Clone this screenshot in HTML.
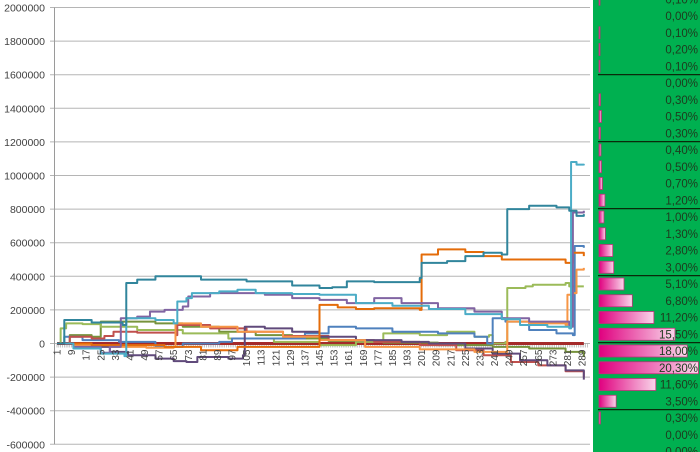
<!DOCTYPE html>
<html><head><meta charset="utf-8"><style>
body{margin:0;background:#fff;width:700px;height:452px;overflow:hidden;font-family:"Liberation Sans",sans-serif}
</style></head><body>
<svg id="c" width="700" height="452" xmlns="http://www.w3.org/2000/svg" style="position:absolute;left:0;top:0"></svg>
<script>
const yTicks=[2000000,1800000,1600000,1400000,1200000,1000000,800000,600000,400000,200000,0,-200000,-400000,-600000];
const nCats=292;
const xLabelStep=8;
// series: [category index, value]
const sDarkTeal=[[1,0],[5,140000],[20,125000],[37,110000],[39,360000],[45,380000],[55,400000],[80,380000],[105,370000],[130,345000],[145,330000],[152,335000],[160,370000],[175,365000],[200,390000],[201,480000],[215,490000],[225,520000],[235,540000],[245,530000],[248,800000],[255,800000],[260,820000],[275,810000],[282,790000],[286,760000],[290,770000]];
const sCyan=[[1,0],[10,-30000],[25,-60000],[38,-75000],[39,150000],[55,140000],[65,120000],[67,250000],[72,270000],[75,300000],[90,310000],[100,320000],[110,300000],[130,295000],[145,290000],[165,240000],[185,225000],[205,205000],[225,175000],[245,145000],[255,110000],[270,100000],[282,90000],[283,1080000],[286,1065000],[290,1060000]];
const sPurple=[[1,0],[10,-20000],[25,-55000],[30,-20000],[36,150000],[45,160000],[52,190000],[60,200000],[70,220000],[73,280000],[85,300000],[100,300000],[115,290000],[130,270000],[145,260000],[160,240000],[175,270000],[190,240000],[210,210000],[230,190000],[245,150000],[260,130000],[282,100000],[284,780000],[290,790000]];
const sPurpleDark=[[1,0],[15,-20000],[30,-50000],[40,-70000],[55,-90000],[65,-105000],[72,-110000],[78,-80000],[95,-90000],[103,-70000],[104,100000],[115,90000],[130,70000],[145,40000],[165,20000],[190,10000],[205,0],[225,-30000],[240,-60000],[255,-100000],[270,-130000],[280,-160000],[290,-215000]];
const sRed=[[1,0],[8,40000],[20,30000],[27,45000],[32,70000],[45,65000],[66,50000],[67,110000],[85,90000],[105,70000],[125,45000],[150,20000],[175,10000],[200,-10000],[220,-40000],[235,-70000],[250,-110000],[265,-130000],[280,-165000],[290,-200000]];
const sFlat=[[1,0],[290,0]];
const sLightGreen=[[1,0],[3,90000],[6,120000],[15,115000],[25,100000],[45,80000],[70,60000],[95,30000],[120,10000],[145,-10000],[165,10000],[180,60000],[200,50000],[215,70000],[230,40000],[238,50000],[240,0],[247,10000],[248,330000],[258,340000],[262,350000],[280,360000],[282,340000],[290,340000]];
const sOlive=[[1,0],[8,50000],[20,40000],[25,130000],[40,130000],[55,120000],[70,100000],[90,70000],[110,50000],[130,30000],[150,15000],[180,5000],[210,-10000],[240,-20000],[260,-30000],[280,-50000],[290,-80000]];
const sOrange=[[1,0],[10,-10000],[30,-20000],[50,-25000],[65,-20000],[66,120000],[80,100000],[100,70000],[125,40000],[145,20000],[170,-20000],[200,-35000],[230,-50000],[247,-50000],[248,130000],[260,120000],[280,110000],[281,290000],[284,300000],[286,440000],[290,450000]];
const sDarkOrange=[[1,0],[20,-10000],[60,-20000],[80,-40000],[100,-20000],[144,-20000],[145,230000],[155,215000],[165,205000],[175,210000],[200,200000],[201,530000],[210,560000],[225,545000],[235,520000],[245,500000],[260,500000],[280,480000],[284,540000],[290,520000]];
const sBlue=[[1,0],[5,40000],[15,20000],[35,10000],[55,-20000],[70,0],[90,10000],[97,30000],[125,30000],[137,60000],[150,100000],[165,90000],[185,70000],[210,60000],[230,40000],[237,0],[240,150000],[247,130000],[260,80000],[275,60000],[284,50000],[285,580000],[290,570000]];
const seriesList=[sFlat,sOlive,sLightGreen,sBlue,sRed,sPurpleDark,sOrange,sDarkOrange,sPurple,sCyan,sDarkTeal];
const seriesNames=['flat-series','olive-series','light-green-series','blue-series','red-series','dark-purple-series','orange-series','dark-orange-series','purple-series','cyan-series','dark-teal-series'];
const seriesColors=['#A52A2A','#77933C','#9BBB59','#4F81BD','#C0504D','#604A7B','#F79646','#E46C0A','#8064A2','#4BACC6','#31859C'];
const pctRows=['0,10%','0,00%','0,10%','0,20%','0,10%','0,00%','0,30%','0,50%','0,30%','0,40%','0,50%','0,70%','1,20%','1,00%','1,30%','2,80%','3,00%','5,10%','6,80%','11,20%','15,50%','18,00%','20,30%','11,60%','3,50%','0,30%','0,00%','0,00%'];
const pctValues=[0.1,0,0.1,0.2,0.1,0,0.3,0.5,0.3,0.4,0.5,0.7,1.2,1.0,1.3,2.8,3.0,5.1,6.8,11.2,15.5,18.0,20.3,11.6,3.5,0.3,0,0];

const svg=document.getElementById('c');const NS='http://www.w3.org/2000/svg';
function mk(t,a,p){const e=document.createElementNS(NS,t);for(const k in a)e.setAttribute(k,a[k]);(p||svg).appendChild(e);return e;}
const X0=57,XS=(582-57)/288;
function xs(i){return X0+(i-1)*XS;}
function ys(v){return 343.5-v*33.6/200000;}
yTicks.forEach(v=>{
  const g=mk('line',{x1:50,x2:590,y1:ys(v),y2:ys(v),stroke:'#b5b5b5','stroke-width':1});
  
  
  const t=mk('text',{x:45,y:ys(v)+4,'text-anchor':'end','font-size':10.5,fill:'#404040'});
  t.textContent=String(v);
  
  
});
const ax=mk('line',{x1:54.5,x2:54.5,y1:ys(2000000),y2:ys(-600000),stroke:'#9a9a9a'});


for(let i=1;i<=nCats;i++){const m=mk('line',{x1:xs(i),x2:xs(i),y1:ys(0),y2:ys(0)+4,stroke:'#a0a0a0','stroke-width':0.6});

}
seriesList.forEach((s,k)=>{
  let d='M'+xs(s[0][0])+','+ys(s[0][1]);
  for(let j=1;j<s.length;j++){d+=' L'+xs(s[j][0])+','+ys(s[j-1][1])+' L'+xs(s[j][0])+','+ys(s[j][1]);}
  const p=mk('path',{d:d,fill:'none',stroke:seriesColors[k],'stroke-width':k==0?3:2,'stroke-linejoin':'round'});
  
  
});
for(let i=1;i<=nCats;i+=xLabelStep){
  const t=mk('text',{x:0,y:0,'font-size':10,fill:'#404040','text-anchor':'end',transform:'translate('+(xs(i)+3.5)+','+(ys(0)+6)+') rotate(-90)'});
  t.textContent=String(i);
  
  
}
const pan=mk('rect',{x:593,y:0,width:107,height:452,fill:'#00B050'});


const defs=mk('defs',{});
const gr=mk('linearGradient',{id:'pk',x1:0,x2:1,y1:0,y2:0},defs);
mk('stop',{offset:0,'stop-color':'#E0007F'},gr);mk('stop',{offset:1,'stop-color':'#F9D6EA'},gr);
const R0=16,RH=16.75;
pctRows.forEach((s,k)=>{
  const cy=R0+(k-1)*RH;
  if(pctValues[k]>0){const b=mk('rect',{x:599,y:cy-6,width:Math.max(1,pctValues[k]*4.9),height:12,fill:'url(#pk)',stroke:'#C0307A','stroke-width':0.8});
  
  }
  const t=mk('text',{x:698,y:cy+4,'text-anchor':'end','font-size':11.5,fill:'#1E3A1E'});
  t.textContent=s;
  
  
});
for(let k=1;k<=6;k++){const y=R0+(4*k-0.5)*RH;const l=mk('line',{x1:598,x2:700,y1:y,y2:y,stroke:'#0a2a0a','stroke-width':1.2});

}
</script>
</body></html>
